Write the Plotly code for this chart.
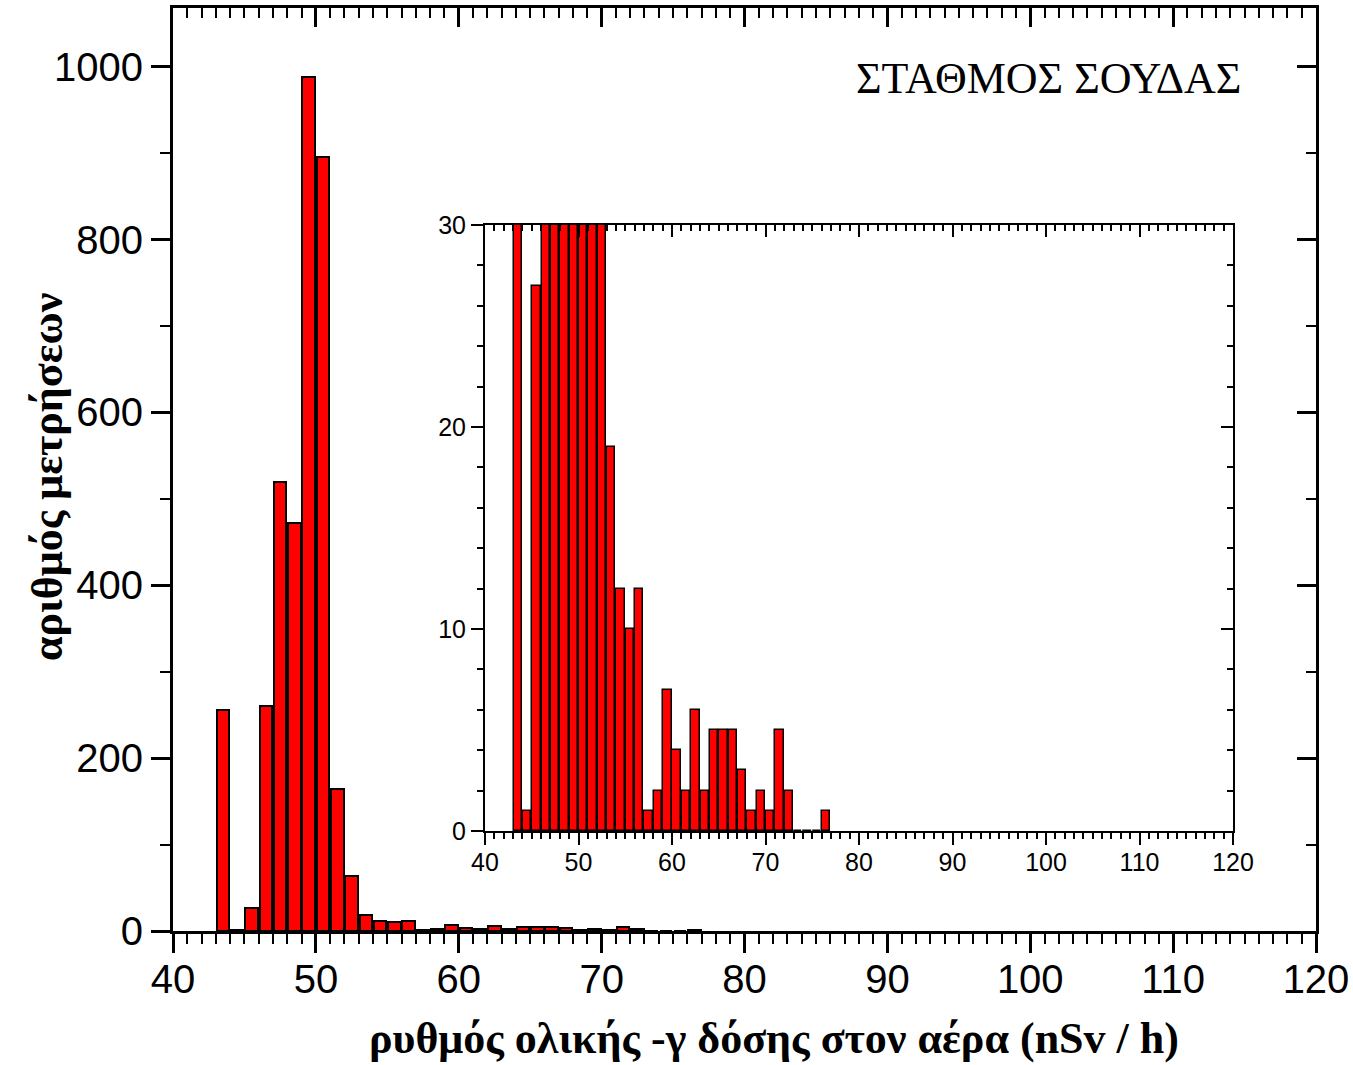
import plotly.graph_objects as go

# Bin centres (nSv/h) and counts
bin_centers = [43.5, 44.5, 45.5, 46.5, 47.5, 48.5, 49.5, 50.5, 51.5, 52.5,
               53.5, 54.5, 55.5, 56.5, 57.5, 58.5, 59.5, 60.5, 61.5, 62.5,
               63.5, 64.5, 65.5, 66.5, 67.5, 68.5, 69.5, 70.5, 71.5, 72.5,
               73.5, 74.5, 75.5, 76.5]
counts = [256, 1, 27, 260, 519, 472, 988, 896, 164, 64,
          19, 12, 10, 12, 1, 2, 7, 4, 2, 6,
          2, 5, 5, 5, 3, 1, 2, 1, 5, 2,
          0, 0, 0, 1]

x_ticks = [40, 50, 60, 70, 80, 90, 100, 110, 120]
main_y_ticks = [0, 200, 400, 600, 800, 1000]
inset_y_ticks = [0, 10, 20, 30]

station_label = "ΣΤΑΘΜΟΣ ΣΟΥΔΑΣ"
x_title = "ρυθμός ολικής -γ δόσης στον αέρα (nSv / h)"
y_title = "αριθμός μετρήσεων"

W, H = 1353, 1065
L, R, T, B = 173, 37, 8, 134
pw, ph = W - L - R, H - T - B

def px_x(p):
    return (p - L) / pw

def px_y(p):
    return (H - B - p) / ph

sans = "Liberation Sans, Arial, sans-serif"
serif = "Liberation Serif, Times New Roman, serif"

fig = go.Figure()

fig.add_trace(go.Bar(x=bin_centers, y=counts, width=0.88,
                     marker=dict(color="#FF0000", line=dict(color="black", width=2)),
                     xaxis="x", yaxis="y", showlegend=False))
fig.add_trace(go.Scatter(x=[None], y=[None], xaxis="x2", yaxis="y2", showlegend=False))
fig.add_trace(go.Bar(x=bin_centers, y=counts, width=0.9,
                     marker=dict(color="#FF0000", line=dict(color="black", width=1.5)),
                     xaxis="x3", yaxis="y3", showlegend=False))
fig.add_trace(go.Scatter(x=[None], y=[None], xaxis="x4", yaxis="y4", showlegend=False))

common_main = dict(showgrid=False, zeroline=False, showline=True, linecolor="black",
                   linewidth=3, tickcolor="black", tickwidth=3)
common_inset = dict(showgrid=False, zeroline=False, showline=True, linecolor="black",
                    linewidth=2, tickcolor="black", tickwidth=2)

inset_x_dom = [px_x(485), px_x(1233)]
inset_y_dom = [px_y(831), px_y(225)]

fig.update_layout(
    width=W, height=H,
    margin=dict(l=L, r=R, t=T, b=B, autoexpand=False),
    paper_bgcolor="white", plot_bgcolor="rgba(0,0,0,0)",
    bargap=0,
    xaxis=dict(domain=[0, 1], range=[40, 120], anchor="y", tickmode="array",
               tickvals=x_ticks, ticks="outside", ticklen=19, ticklabelstandoff=-8,
               tickfont=dict(family=sans, size=40, color="black"),
               minor=dict(dtick=1, ticklen=10, tickwidth=2, tickcolor="black", ticks="outside"),
               **common_main),
    xaxis2=dict(overlaying="x", side="top", anchor="y", range=[40, 120],
                tickmode="array", tickvals=x_ticks, ticks="inside", ticklen=19,
                showticklabels=False,
                minor=dict(dtick=1, ticklen=10, tickwidth=2, tickcolor="black", ticks="inside"),
                **common_main),
    yaxis=dict(domain=[0, 1], range=[0, 1068], anchor="x", tickmode="array",
               tickvals=main_y_ticks, ticks="outside", ticklen=19,
               tickfont=dict(family=sans, size=40, color="black"),
               minor=dict(dtick=100, ticklen=10, tickwidth=2, tickcolor="black", ticks="outside"),
               **common_main),
    yaxis2=dict(overlaying="y", side="right", anchor="x", range=[0, 1068],
                tickmode="array", tickvals=main_y_ticks, ticks="inside", ticklen=19,
                showticklabels=False,
                minor=dict(dtick=100, ticklen=10, tickwidth=2, tickcolor="black", ticks="inside"),
                **common_main),
    xaxis3=dict(domain=inset_x_dom, range=[40, 120], anchor="y3", tickmode="array",
                tickvals=x_ticks, ticks="outside", ticklen=12, ticklabelstandoff=-4,
                tickfont=dict(family=sans, size=25, color="black"),
                minor=dict(dtick=1, ticklen=6, tickwidth=1.5, tickcolor="black", ticks="outside"),
                **common_inset),
    xaxis4=dict(domain=inset_x_dom, overlaying="x3", side="top", anchor="y3", range=[40, 120],
                tickmode="array", tickvals=x_ticks, ticks="inside", ticklen=12,
                showticklabels=False,
                minor=dict(dtick=1, ticklen=6, tickwidth=1.5, tickcolor="black", ticks="inside"),
                **common_inset),
    yaxis3=dict(domain=inset_y_dom, range=[0, 30], anchor="x3", tickmode="array",
                tickvals=inset_y_ticks, ticks="outside", ticklen=12,
                tickfont=dict(family=sans, size=25, color="black"),
                minor=dict(dtick=2, ticklen=6, tickwidth=1.5, tickcolor="black", ticks="outside"),
                **common_inset),
    yaxis4=dict(domain=inset_y_dom, overlaying="y3", side="right", anchor="x3", range=[0, 30],
                tickmode="array", tickvals=inset_y_ticks, ticks="inside", ticklen=12,
                showticklabels=False,
                minor=dict(dtick=2, ticklen=6, tickwidth=1.5, tickcolor="black", ticks="inside"),
                **common_inset),
    annotations=[
        dict(text=station_label, xref="paper", yref="paper", x=px_x(1048), y=px_y(79),
             xanchor="center", yanchor="middle", showarrow=False,
             font=dict(family=serif, size=44, color="black")),
        dict(text="<b>" + x_title + "</b>", xref="paper", yref="paper", x=px_x(774), y=px_y(1038),
             xanchor="center", yanchor="middle", showarrow=False,
             font=dict(family=serif, size=44, color="black")),
        dict(text="<b>" + y_title + "</b>", xref="paper", yref="paper", x=px_x(47), y=px_y(477),
             xanchor="center", yanchor="middle", showarrow=False, textangle=-90,
             font=dict(family=serif, size=44, color="black")),
    ],
)

fig.write_html("out.html")
